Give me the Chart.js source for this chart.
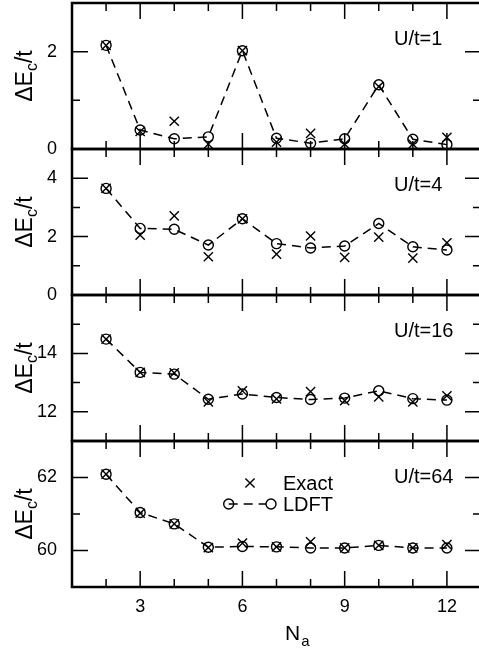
<!DOCTYPE html>
<html lang="en">
<head>
<meta charset="UTF-8">
<title>Charge gap vs N_a</title>
<style>
  html, body { margin: 0; padding: 0; background: #fff; overflow: hidden; }
  #wrap { width: 479px; height: 654px; overflow: hidden; }
  canvas { display: block; }
</style>
</head>
<body>
<div id="wrap"><canvas id="gapChart" width="481" height="654"></canvas></div>
<script src="https://cdn.jsdelivr.net/npm/chart.js"></script>
<script>
// N_a values (shared x axis)
const nA = [2, 3, 4, 5, 6, 7, 8, 9, 10, 11, 12];

// U/t = 1
const exact1 = [2.13, 0.36, 0.57, 0.10, 2.02, 0.14, 0.32, 0.10, 1.28, 0.10, 0.24];
const ldft1  = [2.13, 0.39, 0.21, 0.25, 2.02, 0.22, 0.12, 0.21, 1.32, 0.20, 0.09];
// U/t = 4
const exact2 = [3.65, 2.05, 2.71, 1.31, 2.61, 1.40, 2.02, 1.29, 1.98, 1.26, 1.79];
const ldft2  = [3.65, 2.28, 2.25, 1.71, 2.61, 1.76, 1.61, 1.68, 2.45, 1.65, 1.54];
// U/t = 16
const exact3 = [14.49, 13.35, 13.33, 12.34, 12.72, 12.44, 12.69, 12.38, 12.51, 12.34, 12.55];
const ldft3  = [14.49, 13.35, 13.29, 12.43, 12.61, 12.49, 12.42, 12.47, 12.72, 12.45, 12.40];
// U/t = 64
const exact4 = [62.09, 61.02, 60.73, 60.08, 60.20, 60.10, 60.24, 60.07, 60.14, 60.07, 60.16];
const ldft4  = [62.09, 61.04, 60.73, 60.09, 60.11, 60.10, 60.07, 60.07, 60.14, 60.07, 60.07];

const panelMin = [0, 0, 11, 59];
const panelMax = [3, 5, 16, 63];
const panelLabels = ['U/t=1', 'U/t=4', 'U/t=16', 'U/t=64'];
const xTickLabels = [3, 6, 9, 12];

const FONT = "'Liberation Sans', Arial, Helvetica, sans-serif";
const exactSets = [exact1, exact2, exact3, exact4];
const ldftSets = [ldft1, ldft2, ldft3, ldft4];
const pts = ys => nA.map((n, i) => ({ x: n, y: ys[i] }));

// drop the extra room Chart.js keeps for edge tick labels
const noPad = s => { s.paddingTop = s.paddingBottom = s.paddingLeft = s.paddingRight = 0; };

const scales = {
  x: {
    type: 'linear', position: 'bottom', min: 1, max: 13,
    grid: { display: false }, border: { display: false },
    ticks: {
      stepSize: 1, autoSkip: false, maxRotation: 0, padding: 1, color: '#000',
      font: { family: FONT, size: 18 },
      callback: v => xTickLabels.includes(v) ? String(v) : ''
    },
    afterFit: s => { s.height = 67; noPad(s); }
  }
};
const datasets = [];

for (let p = 0; p < 4; p++) {
  const id = 'y' + (p + 1);
  scales[id] = {
    type: 'linear', position: 'left', stack: 'panels', stackWeight: 1, weight: 4 - p,
    min: panelMin[p], max: panelMax[p],
    grid: { display: false }, border: { display: false },
    ticks: {
      stepSize: 1, autoSkip: false, padding: 7, color: '#000',
      font: { family: FONT, size: 18 },
      callback: v => (v % 2 === 0 && v !== panelMax[p]) ? String(v) : ''
    },
    afterFit: s => { s.width = 72; noPad(s); }
  };
  datasets.push({
    label: 'LDFT', yAxisID: id, data: pts(ldftSets[p]),
    borderColor: '#000', borderWidth: 1.5, borderDash: [9, 6], fill: false, tension: 0,
    pointStyle: 'circle', pointRadius: 5, pointBackgroundColor: 'rgba(0,0,0,0)',
    pointBorderColor: '#000', pointBorderWidth: 1.4
  });
  datasets.push({
    label: 'Exact', yAxisID: id, data: pts(exactSets[p]), showLine: false,
    pointStyle: 'crossRot', pointRadius: 6.5, pointBackgroundColor: 'rgba(0,0,0,0)',
    pointBorderColor: '#000', pointBorderWidth: 1.4
  });
}

// frames, inward ticks, titles and legend
const panelPlugin = {
  id: 'panels',
  afterDatasetsDraw(chart) {
    const { ctx, chartArea: a, scales: s } = chart;
    const xs = s.x;
    ctx.save();
    ctx.strokeStyle = '#000';
    ctx.fillStyle = '#000';
    for (let p = 0; p < 4; p++) {
      const ys = s['y' + (p + 1)];
      ctx.lineWidth = 1.5;
      ctx.beginPath();
      for (let v = panelMin[p] + 1; v < panelMax[p]; v++) {
        const y = ys.getPixelForValue(v);
        const len = v % 2 === 0 ? 16 : 8;
        ctx.moveTo(a.left, y); ctx.lineTo(a.left + len, y);
        ctx.moveTo(a.right, y); ctx.lineTo(a.right - len, y);
      }
      for (const n of nA) {
        const x = xs.getPixelForValue(n);
        const len = n % 3 === 0 ? 16 : 8;
        ctx.moveTo(x, ys.top); ctx.lineTo(x, ys.top + len);
        ctx.moveTo(x, ys.bottom); ctx.lineTo(x, ys.bottom - len);
      }
      ctx.stroke();
      ctx.lineWidth = 2.5;
      ctx.strokeRect(a.left, ys.top, a.right - a.left, ys.bottom - ys.top);

      // panel label
      ctx.font = '20px ' + FONT;
      ctx.textAlign = 'left';
      ctx.textBaseline = 'alphabetic';
      ctx.fillText(panelLabels[p], 394, ys.top + 42);

      // y title  ΔE_c/t
      const cy = (ys.top + ys.bottom) / 2;
      ctx.save();
      ctx.translate(32, cy);
      ctx.rotate(-Math.PI / 2);
      ctx.font = '23px ' + FONT;
      const w1 = ctx.measureText('ΔE').width;
      const w3 = ctx.measureText('/t').width;
      ctx.font = '16px ' + FONT;
      const w2 = ctx.measureText('c').width;
      const x0 = -(w1 + w2 + w3) / 2;
      ctx.font = '23px ' + FONT;
      ctx.fillText('ΔE', x0, 0);
      ctx.fillText('/t', x0 + w1 + w2, 0);
      ctx.font = '16px ' + FONT;
      ctx.fillText('c', x0 + w1, 5);
      ctx.restore();
    }

    // x title N_a
    ctx.font = '21px ' + FONT;
    ctx.textAlign = 'left';
    ctx.fillText('N', 285, 640);
    const wN = ctx.measureText('N').width;
    ctx.font = '15px ' + FONT;
    ctx.fillText('a', 285 + wN + 1, 646);

    // legend (inside bottom panel)
    const r = 6.5 * Math.SQRT1_2;
    ctx.lineWidth = 1.4;
    ctx.beginPath();
    ctx.moveTo(250 - r, 483 - r); ctx.lineTo(250 + r, 483 + r);
    ctx.moveTo(250 - r, 483 + r); ctx.lineTo(250 + r, 483 - r);
    ctx.stroke();
    ctx.beginPath();
    ctx.arc(228.7, 504, 5, 0, Math.PI * 2);
    ctx.moveTo(276, 504);
    ctx.arc(271, 504, 5, 0, Math.PI * 2);
    ctx.stroke();
    ctx.lineWidth = 1.5;
    ctx.setLineDash([9, 6]);
    ctx.beginPath();
    ctx.moveTo(228.7, 504); ctx.lineTo(266, 504);
    ctx.stroke();
    ctx.setLineDash([]);
    ctx.font = '20px ' + FONT;
    ctx.fillText('Exact', 283, 490);
    ctx.fillText('LDFT', 283, 511);
    ctx.restore();
  }
};

new Chart(document.getElementById('gapChart').getContext('2d'), {
  type: 'line',
  data: { datasets },
  options: {
    responsive: false,
    animation: false,
    layout: { autoPadding: false, padding: { top: 3, right: 0, bottom: 0, left: 0 } },
    scales,
    plugins: { legend: { display: false }, tooltip: { enabled: false } }
  },
  plugins: [panelPlugin]
});
</script>
</body>
</html>
